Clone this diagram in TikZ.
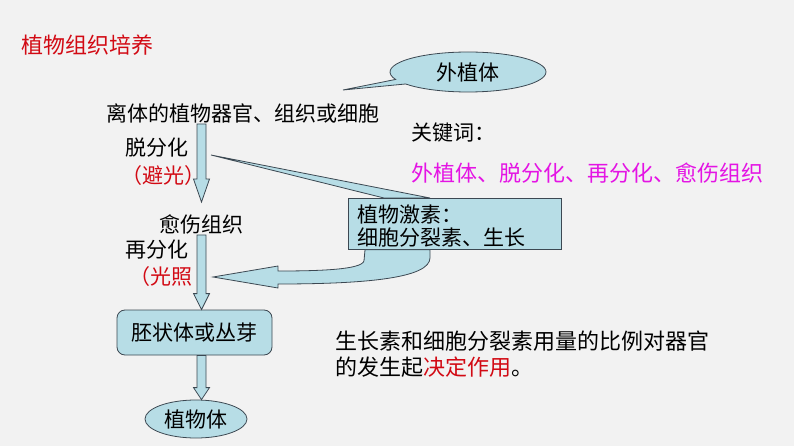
\documentclass[tikz,border=0pt]{standalone}
\usepackage{fontspec}
\setmainfont{Noto Sans CJK SC}
\usetikzlibrary{calc,shapes.geometric,shapes.callouts}
\definecolor{paper}{RGB}{242,242,242}
\definecolor{pale}{RGB}{183,221,230}
\definecolor{edge}{RGB}{60,72,82}
\definecolor{keyred}{RGB}{210,10,20}
\definecolor{keypink}{RGB}{228,20,228}
\tikzset{
  txt/.style={inner sep=1pt, font=\fontsize{21}{23}\selectfont},
  big/.style={inner sep=1pt, font=\fontsize{22}{26}\selectfont},
  barrow/.style={fill=pale, draw=edge, line width=0.8pt, line join=miter},
  hbox/.style={rectangle, fill=pale, draw=edge, line width=0.8pt,
               minimum width=213pt, minimum height=51pt},
  embryobox/.style={rectangle, rounded corners=8pt, fill=pale, draw=edge, line width=0.8pt,
               minimum width=155pt, minimum height=45pt, txt},
  plantbox/.style={ellipse, fill=pale, draw=edge, line width=0.8pt,
               minimum width=102pt, minimum height=38pt, txt},
  bubble/.style={ellipse callout, fill=pale, draw=edge, line width=0.8pt,
               minimum width=156pt, minimum height=40pt, txt}
}
\newcommand{\blockarrow}[3]{%
  \filldraw[barrow] ($(#1)+(-4.5,0)$) -- ($(#2)+(-4.5,-#3)$) -- ($(#2)+(-8,-#3)$) -- (#2)
                 -- ($(#2)+(8,-#3)$) -- ($(#2)+(4.5,-#3)$) -- ($(#1)+(4.5,0)$) -- cycle;}
\begin{document}
\begin{tikzpicture}[x=1pt,y=-1pt]
    \fill [paper] (0,0) rectangle (794,446);
    \useasboundingbox (0,0) rectangle (794,446);

    \node [big, text=keyred] (title) at (87,45) {植物组织培养};
    \node [txt] (src) at (243,113) {离体的植物器官、组织或细胞};

    \coordinate (bubbletip) at (343,90);
    \node [bubble, callout absolute pointer={(bubbletip)}] (explant) at (468,72) {外植体};

    \node [txt]              (dediff) at (157,148) {脱分化};
    \node [txt, text=keyred] (dark)   at (163,176) {（避光）};
    \node [txt]              (callus) at (201,224) {愈伤组织};
    \node [txt]              (rediff) at (157,250) {再分化};
    \node [txt, text=keyred] (light)  at (161,277) {（光照};
    \node [embryobox]        (embryo) at (194.5,332.5) {胚状体或丛芽};
    \node [plantbox]         (plant)  at (196,419) {植物体};

    \node [txt, anchor=west]                (keyword) at (410,133) {关键词：};
    \node [big, anchor=west, text=keypink]  (keylist) at (410,173) {外植体、脱分化、再分化、愈伤组织};
    \node [big, anchor=north west, align=left] (ratio) at (334,330)
          {生长素和细胞分裂素用量的比例对器官\\的发生起\textcolor{keyred}{决定作用}。};

    \coordinate (axis) at (201.5,0);
    \coordinate (tip1) at ($(axis |- callus.north)+(0,-11)$);
    \blockarrow{axis |- src.south}{tip1}{23}
    \blockarrow{axis |- callus.south}{axis |- embryo.north}{16}
    \blockarrow{axis |- embryo.south}{axis |- plant.north}{12}

    \coordinate (hormtip)    at (211,155);
    \coordinate (hormcorner) at (348,198);
    \filldraw [barrow] (hormtip) -- ($(hormcorner)+(82,0)$) -- ($(hormcorner)+(36,0)$) -- cycle;
    \node [hbox, anchor=north west] (hormone) at (hormcorner) {};

    \coordinate (lighttip) at (213,277);
    \filldraw [barrow] ($(hormone.south west)+(17,0)$) -- ++(-1,11)
                       .. controls +(-2,9) and +(40,0) .. ($(lighttip)+(65,-6)$) -- ++(0,-5)
                       -- (lighttip) -- ($(lighttip)+(65,11)$) -- ++(0,-4)
                       .. controls +(90,0) and +(0,20) .. ($(hormone.south west)+(82,8)$)
                       -- ($(hormone.south west)+(82,0)$) -- cycle;

    \node [txt, anchor=north west, align=left] (hormtext) at ($(hormone.north west)+(8,6)$)
          {植物激素：\\细胞分裂素、生长};
\end{tikzpicture}
\end{document}
